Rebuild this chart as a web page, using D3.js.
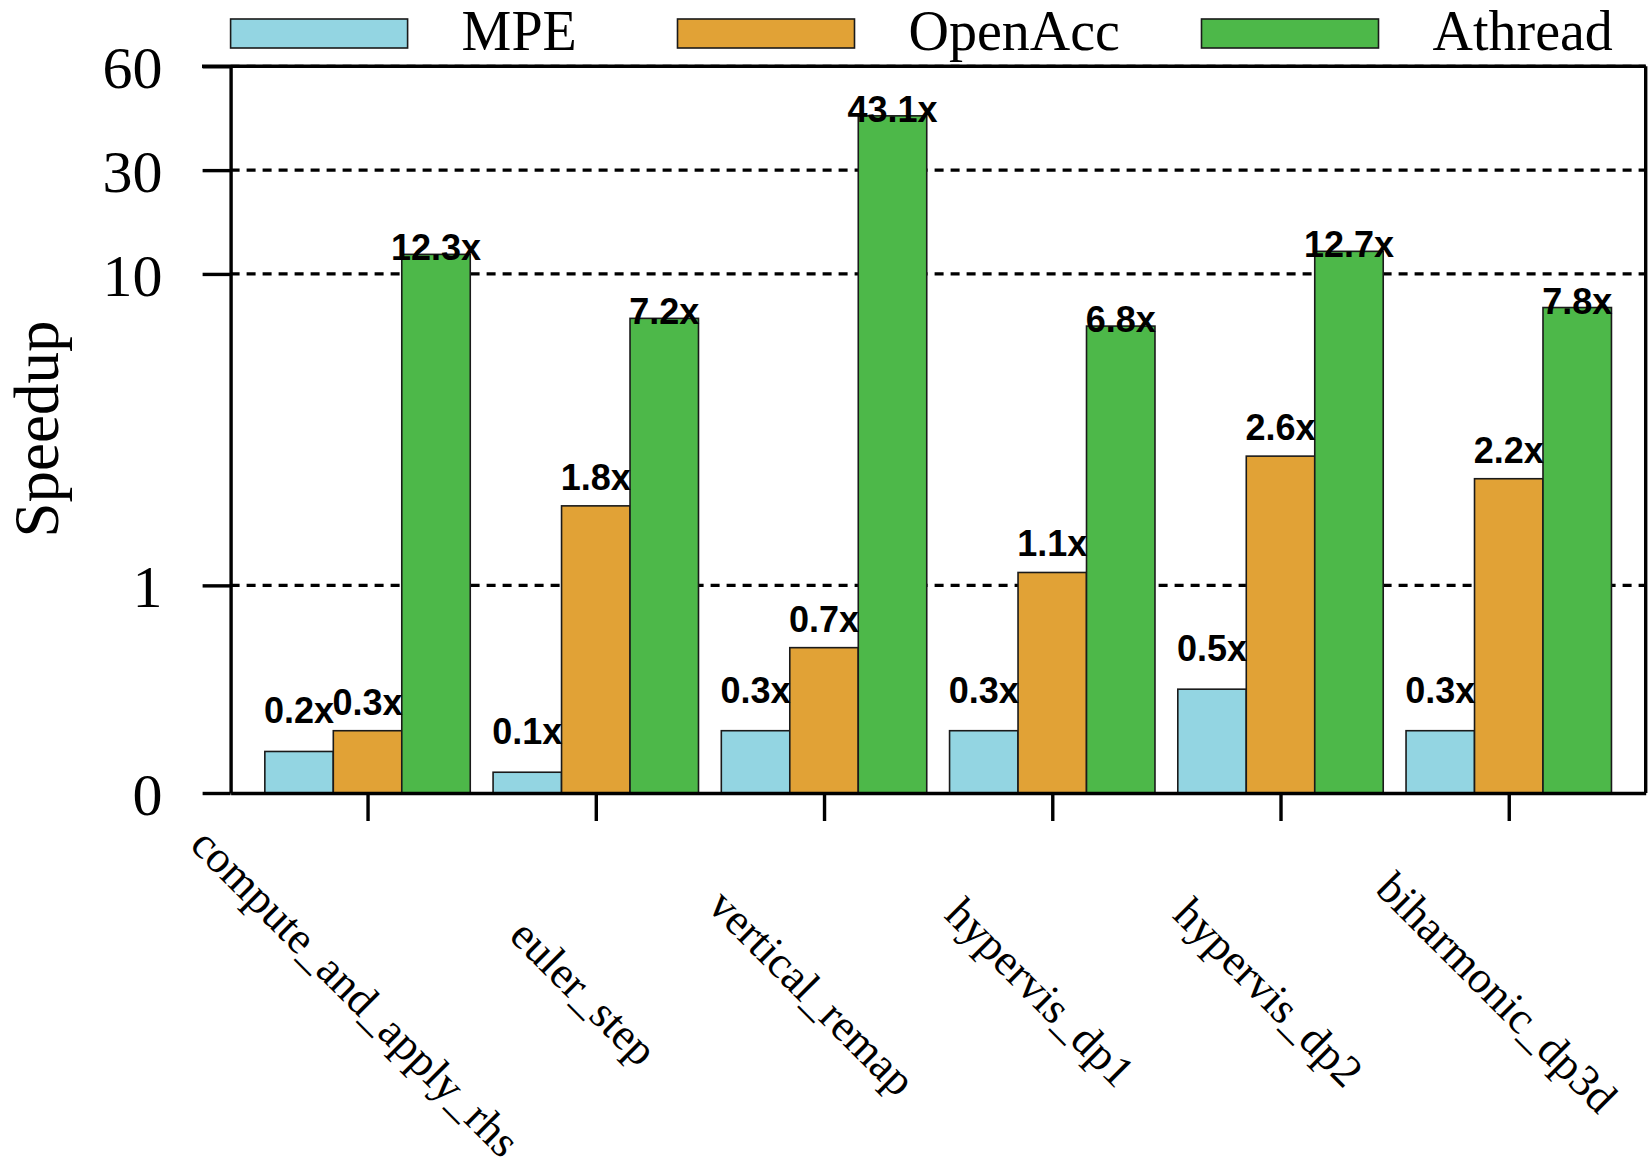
<!DOCTYPE html>
<html>
<head>
<meta charset="utf-8">
<script src="https://cdn.jsdelivr.net/npm/d3@7"></script>
<style>
  html, body { margin: 0; padding: 0; background: #fff; }
  svg { display: block; }
</style>
</head>
<body>
<svg id="chart" width="1651" height="1168"></svg>
<script>
// Kernel speedups on three execution back-ends
const categories = ["compute_and_apply_rhs", "euler_step", "vertical_remap",
                    "hypervis_dp1", "hypervis_dp2", "biharmonic_dp3d"];
const seriesNames = ["MPE", "OpenAcc", "Athread"];
const mpeValues     = [0.2, 0.1, 0.3, 0.3, 0.5, 0.3];
const openaccValues = [0.3, 1.8, 0.7, 1.1, 2.6, 2.2];
const athreadValues = [12.3, 7.2, 43.1, 6.8, 12.7, 7.8];
const yTickValues = [0, 1, 10, 30, 60];

const seriesValues = [mpeValues, openaccValues, athreadValues];
const seriesColors = ["#93d5e2", "#e1a236", "#4db849"];

const W = 1651, H = 1168;
const plot = { left: 230.6, right: 1645.7, top: 66.3, bottom: 793 };
const serif = "'Liberation Serif', 'Times New Roman', Times, serif";
const sans = "'Liberation Sans', Arial, Helvetica, sans-serif";

const svg = d3.select("#chart");
svg.append("rect").attr("width", W).attr("height", H).attr("fill", "#fff");

// x: one unit per kernel, bars 0.3 units wide, centred group
const x = d3.scaleLinear().domain([-0.6, 5.6]).range([plot.left, plot.right]);
const barW = 0.3;

// y: linear below 1, logarithmic in each segment above; ticks sit on
// evenly spaced slots (0, 2, 5, 6, 7 of 7) of the plot height
const warp = v => (v <= 1 ? v - 1 : Math.log10(v));
const slots = [0, 2, 5, 6, 7];
const slotH = (plot.bottom - plot.top) / 7;
const yLin = d3.scaleLinear()
  .domain(yTickValues.map(warp))
  .range(slots.map(s => plot.bottom - s * slotH));
const y = v => yLin(warp(v));

// dashed grid lines
svg.append("g").selectAll("line")
  .data(yTickValues.filter(v => v > 0))
  .join("line")
  .attr("x1", plot.left).attr("x2", plot.right)
  .attr("y1", d => y(d)).attr("y2", d => y(d))
  .attr("stroke", "#000").attr("stroke-width", 3.2)
  .attr("stroke-dasharray", "9,7");

// bars
const bars = svg.append("g");
seriesValues.forEach((vals, si) => {
  bars.selectAll(null)
    .data(vals)
    .join("rect")
    .attr("x", (d, i) => x(i + (si - 1) * barW - barW / 2))
    .attr("width", x(barW) - x(0))
    .attr("y", d => y(d))
    .attr("height", d => plot.bottom - y(d))
    .attr("fill", seriesColors[si])
    .attr("stroke", "#1a1a1a")
    .attr("stroke-width", 1.6);
});

// value labels
const labelDy = [-28, -16, 6];
const labels = svg.append("g")
  .attr("font-family", sans).attr("font-weight", "bold").attr("font-size", 36)
  .attr("text-anchor", "middle").attr("fill", "#000");
seriesValues.forEach((vals, si) => {
  labels.selectAll(null)
    .data(vals)
    .join("text")
    .attr("x", (d, i) => x(i + (si - 1) * barW))
    .attr("y", d => y(d) + labelDy[si])
    .text(d => d.toFixed(1) + "x");
});

// frame: top and right borders
svg.append("line")
  .attr("x1", 202).attr("x2", plot.right)
  .attr("y1", plot.top).attr("y2", plot.top)
  .attr("stroke", "#000").attr("stroke-width", 3.4);
svg.append("line")
  .attr("x1", plot.right).attr("x2", plot.right)
  .attr("y1", plot.top).attr("y2", plot.bottom)
  .attr("stroke", "#000").attr("stroke-width", 3.4);

// y axis
const yAxis = d3.axisLeft(yLin)
  .tickValues(yTickValues.map(warp))
  .tickFormat((d, i) => yTickValues[i])
  .tickSizeInner(28).tickSizeOuter(0).tickPadding(40);
const gy = svg.append("g").attr("transform", `translate(${plot.left},0)`).call(yAxis);
gy.select(".domain").attr("stroke-width", 3.4);
gy.selectAll(".tick line").attr("stroke-width", 3.4);
gy.selectAll(".tick text")
  .attr("font-family", serif).attr("font-size", 60)
  .attr("dy", "0.36em").attr("fill", "#000");

// x axis
const xAxis = d3.axisBottom(x)
  .tickValues(d3.range(categories.length))
  .tickFormat(i => categories[i])
  .tickSizeInner(28).tickSizeOuter(0);
const gx = svg.append("g").attr("transform", `translate(0,${plot.bottom})`).call(xAxis);
gx.select(".domain").attr("stroke-width", 3.4);
gx.selectAll(".tick line").attr("stroke-width", 3.4);
gx.selectAll(".tick text")
  .attr("font-family", serif).attr("font-size", 45).attr("fill", "#000")
  .attr("x", -12).attr("y", 199).attr("dy", "0.35em")
  .attr("text-anchor", "middle")
  .attr("transform", "rotate(45,-12,199)");

// y axis title
svg.append("text")
  .attr("transform", "translate(58,429) rotate(-90)")
  .attr("text-anchor", "middle")
  .attr("font-family", serif).attr("font-size", 63)
  .text("Speedup");

// legend
const legendX = [230.6, 677.5, 1201.5];
const legend = svg.append("g");
seriesNames.forEach((name, si) => {
  legend.append("rect")
    .attr("x", legendX[si]).attr("y", 19)
    .attr("width", 177).attr("height", 29)
    .attr("fill", seriesColors[si])
    .attr("stroke", "#1a1a1a").attr("stroke-width", 1.6);
  legend.append("text")
    .attr("x", legendX[si] + 231).attr("y", 50)
    .attr("font-family", serif).attr("font-size", 56)
    .text(name);
});
</script>
</body>
</html>
